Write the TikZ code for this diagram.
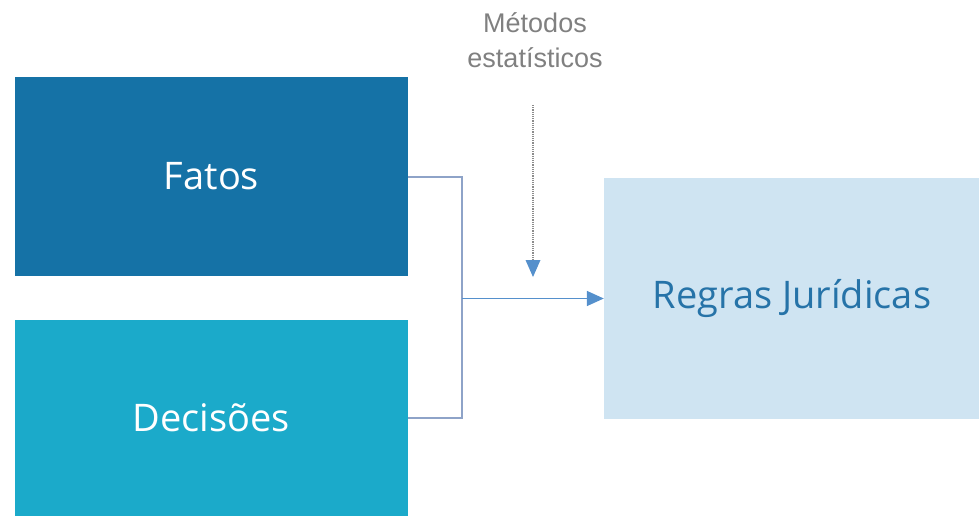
\documentclass[tikz,border=0pt]{standalone}
\usepackage{fontspec}
\setmainfont{Open Sans}
\newfontfamily\smallfont{Liberation Sans}
\usetikzlibrary{arrows.meta}
\definecolor{fatosblue}{HTML}{1572A6}
\definecolor{decisoescyan}{HTML}{1BAACA}
\definecolor{regrasfill}{HTML}{CFE4F2}
\definecolor{regrastext}{HTML}{2673A8}
\definecolor{linkgrey}{HTML}{8EA3C8}
\definecolor{arrowblue}{HTML}{5590CC}
\tikzset{
	bigbox/.style={rectangle, inner sep=0pt, font=\fontsize{38}{44}\selectfont},
	linkline/.style={line width=2pt, color=linkgrey},
	flowarrow/.style={line width=1.6pt, color=arrowblue, -{Triangle[length=17pt,width=15pt]}}
}

\begin{document}
\begin{tikzpicture}[x=1pt, y=-1pt]
			%%%%% START %%%%%
			
			\useasboundingbox (0, 0) rectangle (979, 516);
			
			\node[bigbox, fill=fatosblue, text=white, minimum width=393pt, minimum height=199pt] (fatos) at (211.5, 176.5) {Fatos};
			\node[bigbox, fill=decisoescyan, text=white, minimum width=393pt, minimum height=196pt] (decisoes) at (211.5, 418) {Decisões};
			\node[bigbox, fill=regrasfill, text=regrastext, minimum width=376pt, minimum height=241pt] (regras) at (792, 298.5) {Regras Jurídicas};
			
			\node[font=\smallfont\fontsize{27}{35}\selectfont, text=black!50, align=center] (metodos) at (535, 40) {Métodos\\estatísticos};
			
			\coordinate (juncao) at (462, 298.5);
			\coordinate (estat) at (533, 105);
			\coordinate (estatfim) at (533, 277);
			
			\draw[linkline] (fatos.east) -| (juncao) |- (decisoes.east);
			\draw[flowarrow] (juncao) -- (regras.west);
			\draw[line width=1.2pt, color=black!45, densely dotted] (estat) -- (533, 262);
			\draw[flowarrow, line width=0pt] (533, 262) -- (estatfim);
			
			%%%%% END %%%%%
\end{tikzpicture}
\end{document}
